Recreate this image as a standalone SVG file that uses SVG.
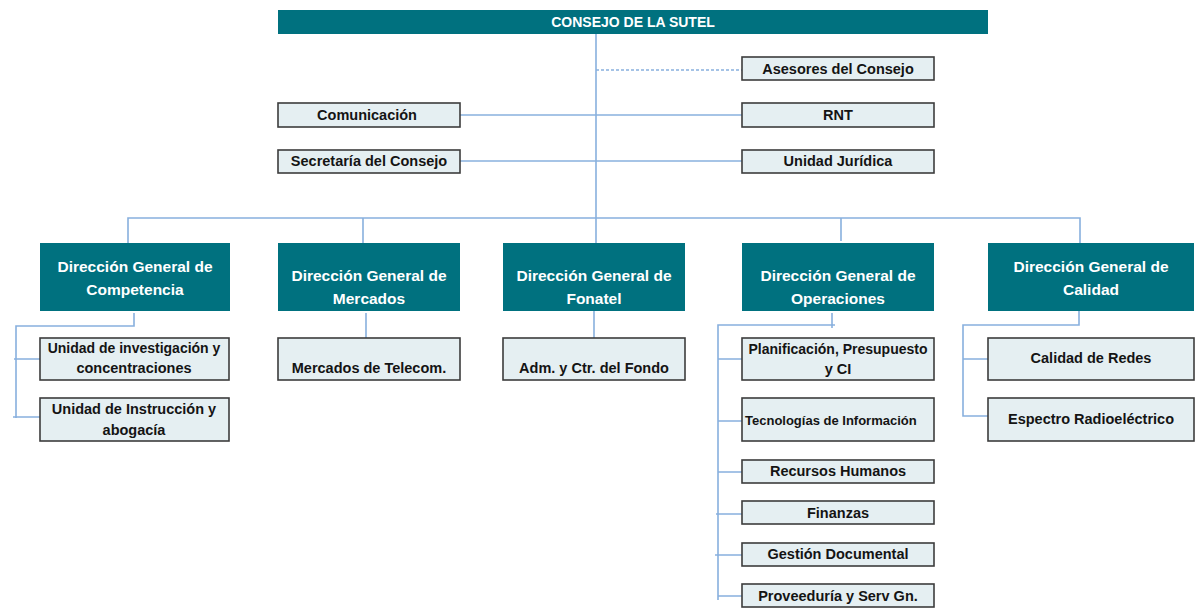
<svg xmlns="http://www.w3.org/2000/svg" width="1204" height="616" viewBox="0 0 1204 616">
<style>
.dir{fill:#00717F}
.box{fill:#E5EFF2;stroke:#3C3C3C;stroke-width:1.6}
.t{font-family:"Liberation Sans",Arial,sans-serif;font-weight:bold;font-size:14.5px;fill:#141414;text-anchor:middle}
.w{font-family:"Liberation Sans",Arial,sans-serif;font-weight:bold;font-size:15.5px;fill:#ffffff;text-anchor:middle}
.ln{stroke:#88B0DE;stroke-width:1.6;fill:none}
.dash{stroke-dasharray:3,2}
</style>
<rect width="1204" height="616" fill="#ffffff"/>
<g id="connectors">
<path class="ln" d="M596 34V243"/>
<path class="ln dash" d="M596 70H742"/>
<path class="ln" d="M460 115H742"/>
<path class="ln" d="M460 161H742"/>
<path class="ln" d="M128 243V218H1080V243"/>
<path class="ln" d="M363 218V243"/>
<path class="ln" d="M841 218V241"/>
<path class="ln" d="M134 313V326H16V418"/>
<path class="ln" d="M14 359H40M13 417H40"/>
<path class="ln" d="M366 313V338"/>
<path class="ln" d="M594 306V338"/>
<path class="ln" d="M832 313V328M835 325H718V600"/>
<path class="ln" d="M718 359H742M718 421H742M718 472H742M716 514H742M715 555H742M718 596H742"/>
<path class="ln" d="M1079 310V325H963V416H988M963 359H988"/>
</g>
<g id="consejo"><rect class="dir" x="278" y="10" width="710" height="24"/><text class="w" x="633" y="27" style="font-size:14px">CONSEJO DE LA SUTEL</text></g>
<g id="asesores"><rect class="box" x="742" y="57" width="192" height="23"/><text class="t" x="838" y="74">Asesores del Consejo</text></g>
<g id="comunicacion"><rect class="box" x="278" y="103" width="182" height="24"/><text class="t" x="367" y="120">Comunicación</text></g>
<g id="rnt"><rect class="box" x="742" y="103" width="192" height="24"/><text class="t" x="838" y="120">RNT</text></g>
<g id="secretaria"><rect class="box" x="278" y="150" width="182" height="23"/><text class="t" x="369" y="166">Secretaría del Consejo</text></g>
<g id="juridica"><rect class="box" x="742" y="150" width="192" height="23"/><text class="t" x="838" y="166">Unidad Jurídica</text></g>
<g id="dg-competencia"><rect class="dir" x="40" y="243" width="190" height="68"/><text class="w" x="135" y="272">Dirección General de</text><text class="w" x="135" y="295">Competencia</text></g>
<g id="dg-mercados"><rect class="dir" x="278" y="243" width="182" height="68"/><text class="w" x="369" y="281">Dirección General de</text><text class="w" x="369" y="304">Mercados</text></g>
<g id="dg-fonatel"><rect class="dir" x="503" y="243" width="182" height="68"/><text class="w" x="594" y="281">Dirección General de</text><text class="w" x="594" y="304">Fonatel</text></g>
<g id="dg-operaciones"><rect class="dir" x="742" y="243" width="192" height="68"/><text class="w" x="838" y="281">Dirección General de</text><text class="w" x="838" y="304">Operaciones</text></g>
<g id="dg-calidad"><rect class="dir" x="988" y="243" width="206" height="68"/><text class="w" x="1091" y="272">Dirección General de</text><text class="w" x="1091" y="295">Calidad</text></g>
<g id="investigacion"><rect class="box" x="40" y="338" width="189" height="42"/><text class="t" x="134" y="353" style="font-size:14px">Unidad de investigación y</text><text class="t" x="134" y="373">concentraciones</text></g>
<g id="instruccion"><rect class="box" x="40" y="398" width="189" height="43"/><text class="t" x="134" y="414">Unidad de Instrucción y</text><text class="t" x="134" y="435">abogacía</text></g>
<g id="mercados-telecom"><rect class="box" x="278" y="338" width="182" height="42"/><text class="t" x="369" y="373">Mercados de Telecom.</text></g>
<g id="adm-fondo"><rect class="box" x="503" y="338" width="182" height="42"/><text class="t" x="594" y="373">Adm. y Ctr. del Fondo</text></g>
<g id="planificacion"><rect class="box" x="742" y="338" width="192" height="42"/><text class="t" x="838" y="354" style="font-size:14px">Planificación, Presupuesto</text><text class="t" x="838" y="374">y CI</text></g>
<g id="tecnologias"><rect class="box" x="742" y="398" width="192" height="43"/><text class="t" x="745" y="425" style="font-size:13px;text-anchor:start">Tecnologías de Información</text></g>
<g id="rrhh"><rect class="box" x="742" y="460" width="192" height="23"/><text class="t" x="838" y="476">Recursos Humanos</text></g>
<g id="finanzas"><rect class="box" x="742" y="501" width="192" height="23"/><text class="t" x="838" y="518">Finanzas</text></g>
<g id="gestion"><rect class="box" x="742" y="543" width="192" height="23"/><text class="t" x="838" y="559">Gestión Documental</text></g>
<g id="proveeduria"><rect class="box" x="742" y="584" width="192" height="23"/><text class="t" x="838" y="601">Proveeduría y Serv Gn.</text></g>
<g id="calidad-redes"><rect class="box" x="988" y="338" width="206" height="42"/><text class="t" x="1091" y="363">Calidad de Redes</text></g>
<g id="espectro"><rect class="box" x="988" y="398" width="206" height="43"/><text class="t" x="1091" y="424">Espectro Radioeléctrico</text></g>
</svg>
